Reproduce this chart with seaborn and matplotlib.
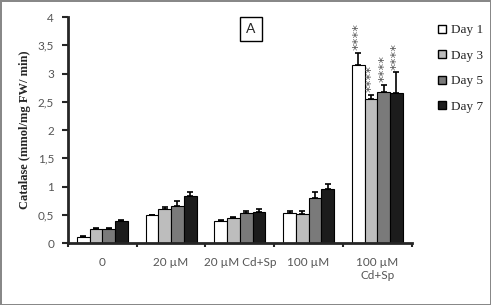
import pandas as pd
import seaborn as sns
import matplotlib.pyplot as plt
from matplotlib.lines import Line2D

# values
treatments = ["0", "20 µM", "20 µM Cd+Sp", "100 µM", "100 µM\nCd+Sp"]
days = ["Day 1", "Day 3", "Day 5", "Day 7"]
day1 = [0.11, 0.49, 0.39, 0.53, 3.16]
day3 = [0.25, 0.60, 0.44, 0.52, 2.55]
day5 = [0.25, 0.66, 0.53, 0.80, 2.68]
day7 = [0.39, 0.84, 0.55, 0.95, 2.66]
err1 = [0.01, 0.01, 0.02, 0.04, 0.21]
err3 = [0.01, 0.03, 0.02, 0.05, 0.07]
err5 = [0.01, 0.08, 0.04, 0.10, 0.12]
err7 = [0.02, 0.06, 0.06, 0.10, 0.36]
stars = ["", "", "", "", "****"]

colors = ["#ffffff", "#bdbdbd", "#7a7a7a", "#1c1c1c"]

rows = []
for d, vals, errs in zip(days, [day1, day3, day5, day7], [err1, err3, err5, err7]):
    for t, v, e in zip(treatments, vals, errs):
        rows.append({"treatment": t, "day": d, "value": v, "err": e})
df = pd.DataFrame(rows)

sns.set_style("ticks")
plt.rcParams["font.family"] = ["Lato", "DejaVu Sans"]

fig = plt.figure(figsize=(4.91, 3.05), dpi=100)
ax = fig.add_axes([0.1385, 0.203, 0.7, 0.741])

sns.barplot(data=df, x="treatment", y="value", hue="day", palette=colors,
            errorbar=None, width=0.74, edgecolor="black", linewidth=0.8,
            legend=False, ax=ax)

for cont, d in zip(ax.containers, days):
    sub = df[df["day"] == d]
    xs = [p.get_x() + p.get_width() / 2 for p in cont.patches]
    ax.errorbar(xs, sub["value"], yerr=[[0] * len(xs), sub["err"]], fmt="none",
                ecolor="black", elinewidth=1.2, capsize=2.5, capthick=1.2)
    for x, v, e, s in zip(xs, sub["value"], sub["err"], stars):
        if s:
            ax.text(x, v + e + 0.05, s, rotation=90, ha="center", va="bottom",
                    fontsize=9.5, color="#555555", family="DejaVu Sans")

ax.set_ylim(0, 4)
ax.set_xlim(-0.5, 4.5)
ax.set_yticks([0, 0.5, 1, 1.5, 2, 2.5, 3, 3.5, 4])
ax.set_yticklabels(["0", "0,5", "1", "1,5", "2", "2,5", "3", "3,5", "4"])
ax.set_xticks(range(len(treatments)))
ax.set_xticklabels(treatments)
ax.set_xticks([-0.5, 0.5, 1.5, 2.5, 3.5, 4.5], minor=True)
ax.tick_params(axis="x", which="major", length=0, pad=10, labelsize=8.5, labelcolor="#555555")
ax.tick_params(axis="x", which="minor", length=3, width=1.5, direction="out")
ax.tick_params(axis="y", length=4, width=1.5, labelsize=8.5, labelcolor="#555555", pad=6)
ax.set_xlabel("")
ax.set_ylabel("Catalase (mmol/mg FW/ min)", family="Liberation Serif",
              fontweight="bold", fontsize=9, labelpad=5)
sns.despine(ax=ax)
ax.spines["left"].set_linewidth(2)
ax.spines["bottom"].set_linewidth(2)

handles = [Line2D([0], [0], marker="s", color="none", markerfacecolor=c,
                  markeredgecolor="black", markersize=6) for c in colors]
fig.legend(handles, days, loc="upper left", bbox_to_anchor=(0.865, 0.96),
           frameon=False, handlelength=0.8, handletextpad=0.3, labelspacing=1.0,
           prop={"family": "Liberation Serif", "size": 9.5})

fig.text(0.511, 0.905, "A", ha="center", va="center", fontsize=10,
         bbox=dict(boxstyle="square,pad=0.45", fc="white", ec="black", lw=1))

fig.patch.set_edgecolor("#888888")
fig.patch.set_linewidth(2)

fig.savefig("out.png", dpi=100, edgecolor=fig.get_edgecolor())
